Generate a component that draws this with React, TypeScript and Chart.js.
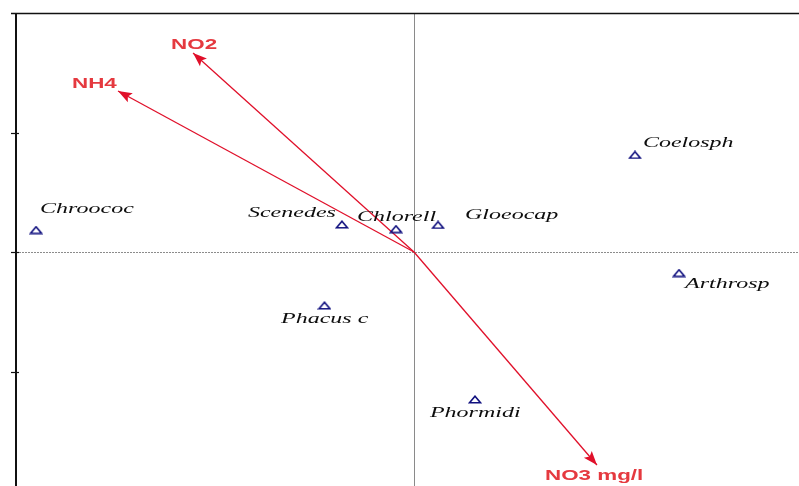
import React, { useEffect, useRef } from "react";
import { Chart, registerables } from "chart.js";

Chart.register(...registerables);

// Species scores (axis 1, axis 2)
const speciesNames = ["Chroococ", "Scenedes", "Chlorell", "Gloeocap", "Coelosph", "Arthrosp", "Phacus c", "Phormidi"];
const speciesX = [-3.163, -0.603, -0.151, 0.201, 1.849, 2.218, -0.749, 0.51];
const speciesY = [0.184, 0.23, 0.192, 0.226, 0.812, -0.176, -0.448, -1.234];

// Environmental variable arrows
const envNames = ["NO2", "NH4", "NO3 mg/l"];
const envX = [-1.849, -2.477, 1.531];
const envY = [1.665, 1.347, -1.782];

// Axis tick values on the left axis
const yTicks = [1, 0, -1];

// Label placement styling (pixel offsets: left edge, baseline)
const speciesLabelOffset: Record<string, [number, number]> = {
  Chroococ: [4, -17],
  Scenedes: [-94, -7.5],
  Chlorell: [-39, -8],
  Gloeocap: [27, -6],
  Coelosph: [8, -8],
  Arthrosp: [6, 15],
  "Phacus c": [-43.5, 17.5],
  Phormidi: [-45, 17.5],
};
const envLabelOffset: Record<string, [number, number]> = {
  NO2: [-22, -4],
  NH4: [-46, -3],
  "NO3 mg/l": [-52, 15],
};

const STRETCH = 1.6;
const ARROW_COLOR = "#e0102a";
const ARROW_TEXT = "#e5393f";
const POINT_COLOR = "#10107f";

function makeTriangle(): HTMLCanvasElement {
  const c = document.createElement("canvas");
  c.width = 14;
  c.height = 9;
  const g = c.getContext("2d")!;
  g.strokeStyle = POINT_COLOR;
  g.lineWidth = 1.6;
  g.beginPath();
  g.moveTo(1.5, 7.8);
  g.lineTo(7, 1.2);
  g.lineTo(12.5, 7.8);
  g.closePath();
  g.stroke();
  return c;
}

const biplotPlugin = {
  id: "biplot",
  beforeDatasetsDraw(chart: any) {
    const { ctx, chartArea, scales } = chart;
    const xs = scales.x;
    const ys = scales.y;
    const x0 = xs.getPixelForValue(0);
    const y0 = ys.getPixelForValue(0);
    ctx.save();
    // zero lines
    ctx.strokeStyle = "#8a8a8a";
    ctx.lineWidth = 1;
    ctx.beginPath();
    ctx.moveTo(Math.round(x0) + 0.5, chartArea.top);
    ctx.lineTo(Math.round(x0) + 0.5, chartArea.bottom);
    ctx.stroke();
    ctx.strokeStyle = "#8c8c8c";
    ctx.setLineDash([2, 1]);
    ctx.beginPath();
    ctx.moveTo(chartArea.left, Math.round(y0) + 0.5);
    ctx.lineTo(chartArea.right, Math.round(y0) + 0.5);
    ctx.stroke();
    ctx.setLineDash([]);
    // frame: left axis and top line
    ctx.strokeStyle = "#111";
    ctx.lineWidth = 2;
    ctx.beginPath();
    ctx.moveTo(chartArea.left, chartArea.top - 1);
    ctx.lineTo(chartArea.left, chartArea.bottom);
    ctx.stroke();
    ctx.lineWidth = 1.3;
    ctx.beginPath();
    ctx.moveTo(chartArea.left - 5, chartArea.top - 0.5);
    ctx.lineTo(chartArea.right, chartArea.top - 0.5);
    ctx.stroke();
    ctx.lineWidth = 1.2;
    for (const t of yTicks) {
      const py = Math.round(ys.getPixelForValue(t)) + 0.5;
      ctx.beginPath();
      ctx.moveTo(chartArea.left - 5, py);
      ctx.lineTo(chartArea.left + 3, py);
      ctx.stroke();
    }
    ctx.restore();
  },
  afterDatasetsDraw(chart: any) {
    const { ctx, scales } = chart;
    const xs = scales.x;
    const ys = scales.y;
    const x0 = xs.getPixelForValue(0);
    const y0 = ys.getPixelForValue(0);
    ctx.save();
    // arrowheads and env labels
    envNames.forEach((name, i) => {
      const tx = xs.getPixelForValue(envX[i]);
      const ty = ys.getPixelForValue(envY[i]);
      const dx = tx - x0;
      const dy = ty - y0;
      const len = Math.hypot(dx, dy);
      const ux = dx / len;
      const uy = dy / len;
      const L = 14;
      const W = 5.2;
      ctx.fillStyle = ARROW_COLOR;
      ctx.beginPath();
      ctx.moveTo(tx, ty);
      ctx.lineTo(tx - L * ux - W * uy, ty - L * uy + W * ux);
      ctx.lineTo(tx - L * 0.8 * ux, ty - L * 0.8 * uy);
      ctx.lineTo(tx - L * ux + W * uy, ty - L * uy - W * ux);
      ctx.closePath();
      ctx.fill();
      const off = envLabelOffset[name] || [0, 0];
      ctx.save();
      ctx.translate(tx + off[0], ty + off[1]);
      ctx.scale(STRETCH, 1);
      ctx.fillStyle = ARROW_TEXT;
      ctx.font = 'bold 14px "Liberation Sans", Arial, sans-serif';
      ctx.textAlign = "left";
      ctx.textBaseline = "alphabetic";
      ctx.fillText(name, 0, 0);
      ctx.restore();
    });
    // species labels
    speciesNames.forEach((name, i) => {
      const px = xs.getPixelForValue(speciesX[i]);
      const py = ys.getPixelForValue(speciesY[i]);
      const off = speciesLabelOffset[name] || [0, 0];
      ctx.save();
      ctx.translate(px + off[0], py + off[1]);
      ctx.scale(STRETCH, 1);
      ctx.fillStyle = "#0d0d0d";
      ctx.font = 'italic 15px "Liberation Serif", "Times New Roman", serif';
      ctx.textAlign = "left";
      ctx.textBaseline = "alphabetic";
      ctx.fillText(name, 0, 0);
      ctx.restore();
    });
    ctx.restore();
  },
};

export default function App() {
  const ref = useRef<HTMLCanvasElement | null>(null);
  useEffect(() => {
    if (!ref.current) return;
    const tri = makeTriangle();
    const arrowSets = envNames.map((name, i) => ({
      type: "line" as const,
      label: name,
      data: [
        { x: 0, y: 0 },
        { x: envX[i], y: envY[i] },
      ],
      borderColor: ARROW_COLOR,
      borderWidth: 1.3,
      pointRadius: 0,
      fill: false,
      order: 2,
    }));
    const chart = new Chart(ref.current, {
      type: "scatter",
      data: {
        datasets: [
          ...arrowSets,
          {
            type: "scatter" as const,
            label: "Species",
            data: speciesNames.map((_, i) => ({ x: speciesX[i], y: speciesY[i] })),
            pointStyle: tri as any,
            pointRadius: 6,
            order: 1,
          },
        ] as any,
      },
      options: {
        animation: false,
        responsive: false,
        devicePixelRatio: 1,
        events: [],
        layout: { autoPadding: false, padding: { left: 16, top: 14, right: 0, bottom: 0 } },
        plugins: { legend: { display: false }, tooltip: { enabled: false } },
        scales: {
          x: { type: "linear", min: -3.3305, max: 3.2218, display: false },
          y: { type: "linear", min: -1.958, max: 1.9916, display: false },
        },
      },
      plugins: [biplotPlugin],
    });
    return () => chart.destroy();
  }, []);
  return (
    <div style={{ position: "fixed", left: 0, top: 0, width: 799, height: 486, background: "#fff" }}>
      <canvas ref={ref} width={799} height={486} style={{ display: "block", width: 799, height: 486 }} />
    </div>
  );
}
